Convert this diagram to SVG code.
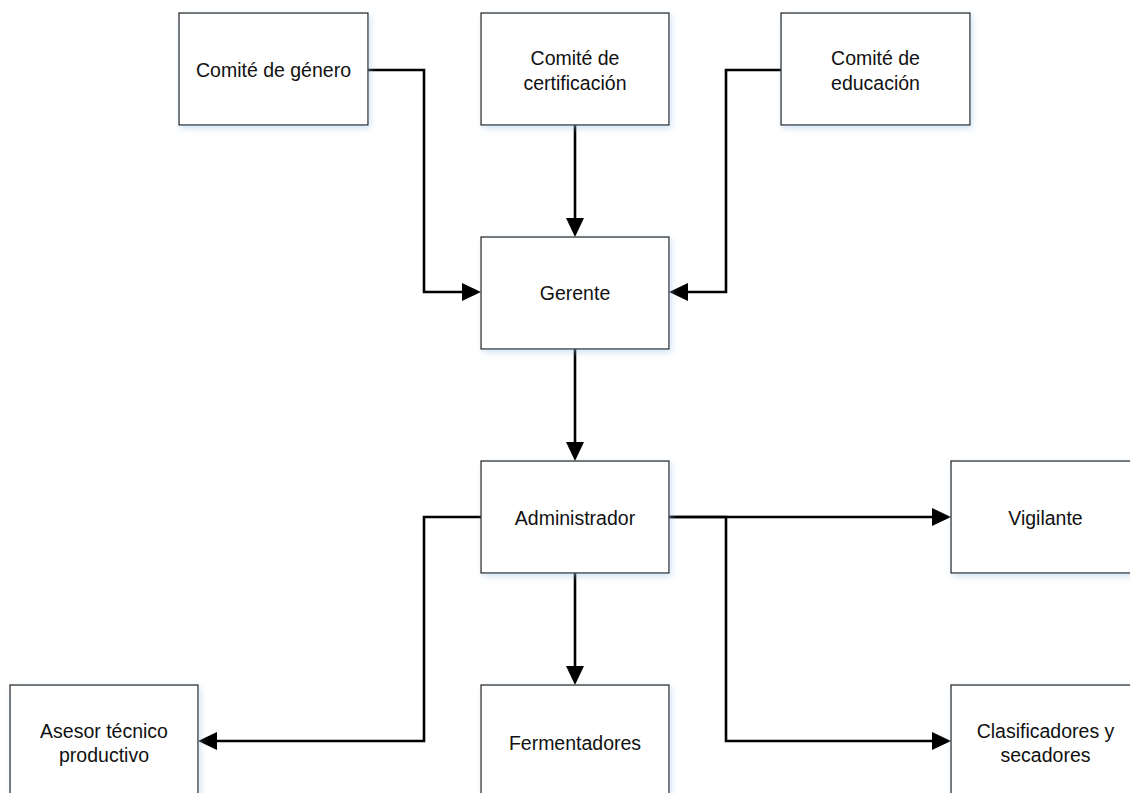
<svg xmlns="http://www.w3.org/2000/svg" width="1130" height="793" viewBox="0 0 1130 793">
<style>
.box{fill:#fff;stroke:#1a1a1a;stroke-width:1.2;filter:url(#sh)}
.t{font-family:"Liberation Sans",Arial,sans-serif;font-size:19.5px;fill:#111;text-anchor:middle}
.c{fill:none;stroke:#000;stroke-width:2.6;marker-end:url(#ah)}
.n{fill:none;stroke:#000;stroke-width:2.6}
</style>
<defs>
<filter id="sh" x="-10%" y="-10%" width="130%" height="130%">
<feDropShadow dx="2" dy="3" stdDeviation="3" flood-color="#9dc3e6" flood-opacity="0.45"/>
</filter>
<marker id="ah" viewBox="0 0 19 18" refX="0" refY="9" markerWidth="19" markerHeight="18" markerUnits="userSpaceOnUse" orient="auto">
<path d="M0,0 L19,9 L0,18 z" fill="#000"/>
</marker>
</defs>
<rect width="1130" height="793" fill="#fff"/>
<g id="connectors">
<path class="c" d="M368,70 H424 V292 H462"/>
<path class="c" d="M575,125 V218"/>
<path class="c" d="M781,70 H726 V292 H688"/>
<path class="c" d="M575,349 V442"/>
<path class="c" d="M669,517 H932"/>
<path class="c" d="M481,517 H424 V741 H217"/>
<path class="c" d="M575,573 V666"/>
<path class="c" d="M669,517 H726 V741 H932"/>
</g>
<g id="n-genero">
<rect class="box" x="179" y="13" width="189" height="112"/>
<text class="t" x="273.5" y="77">Comité de género</text>
</g>
<g id="n-certificacion">
<rect class="box" x="481" y="13" width="188" height="112"/>
<text class="t" x="575" y="65">Comité de</text>
<text class="t" x="575" y="90">certificación</text>
</g>
<g id="n-educacion">
<rect class="box" x="781" y="13" width="189" height="112"/>
<text class="t" x="875.5" y="65">Comité de</text>
<text class="t" x="875.5" y="90">educación</text>
</g>
<g id="n-gerente">
<rect class="box" x="481" y="237" width="188" height="112"/>
<text class="t" x="575" y="300">Gerente</text>
</g>
<g id="n-administrador">
<rect class="box" x="481" y="461" width="188" height="112"/>
<text class="t" x="575" y="525">Administrador</text>
</g>
<g id="n-vigilante">
<rect class="box" x="951" y="461" width="189" height="112"/>
<text class="t" x="1045.5" y="525">Vigilante</text>
</g>
<g id="n-asesor">
<rect class="box" x="10" y="685" width="188" height="112"/>
<text class="t" x="104" y="738">Asesor técnico</text>
<text class="t" x="104" y="762">productivo</text>
</g>
<g id="n-fermentadores">
<rect class="box" x="481" y="685" width="188" height="112"/>
<text class="t" x="575" y="750">Fermentadores</text>
</g>
<g id="n-clasificadores">
<rect class="box" x="951" y="685" width="189" height="112"/>
<text class="t" x="1045.5" y="738">Clasificadores y</text>
<text class="t" x="1045.5" y="762">secadores</text>
</g>
</svg>
